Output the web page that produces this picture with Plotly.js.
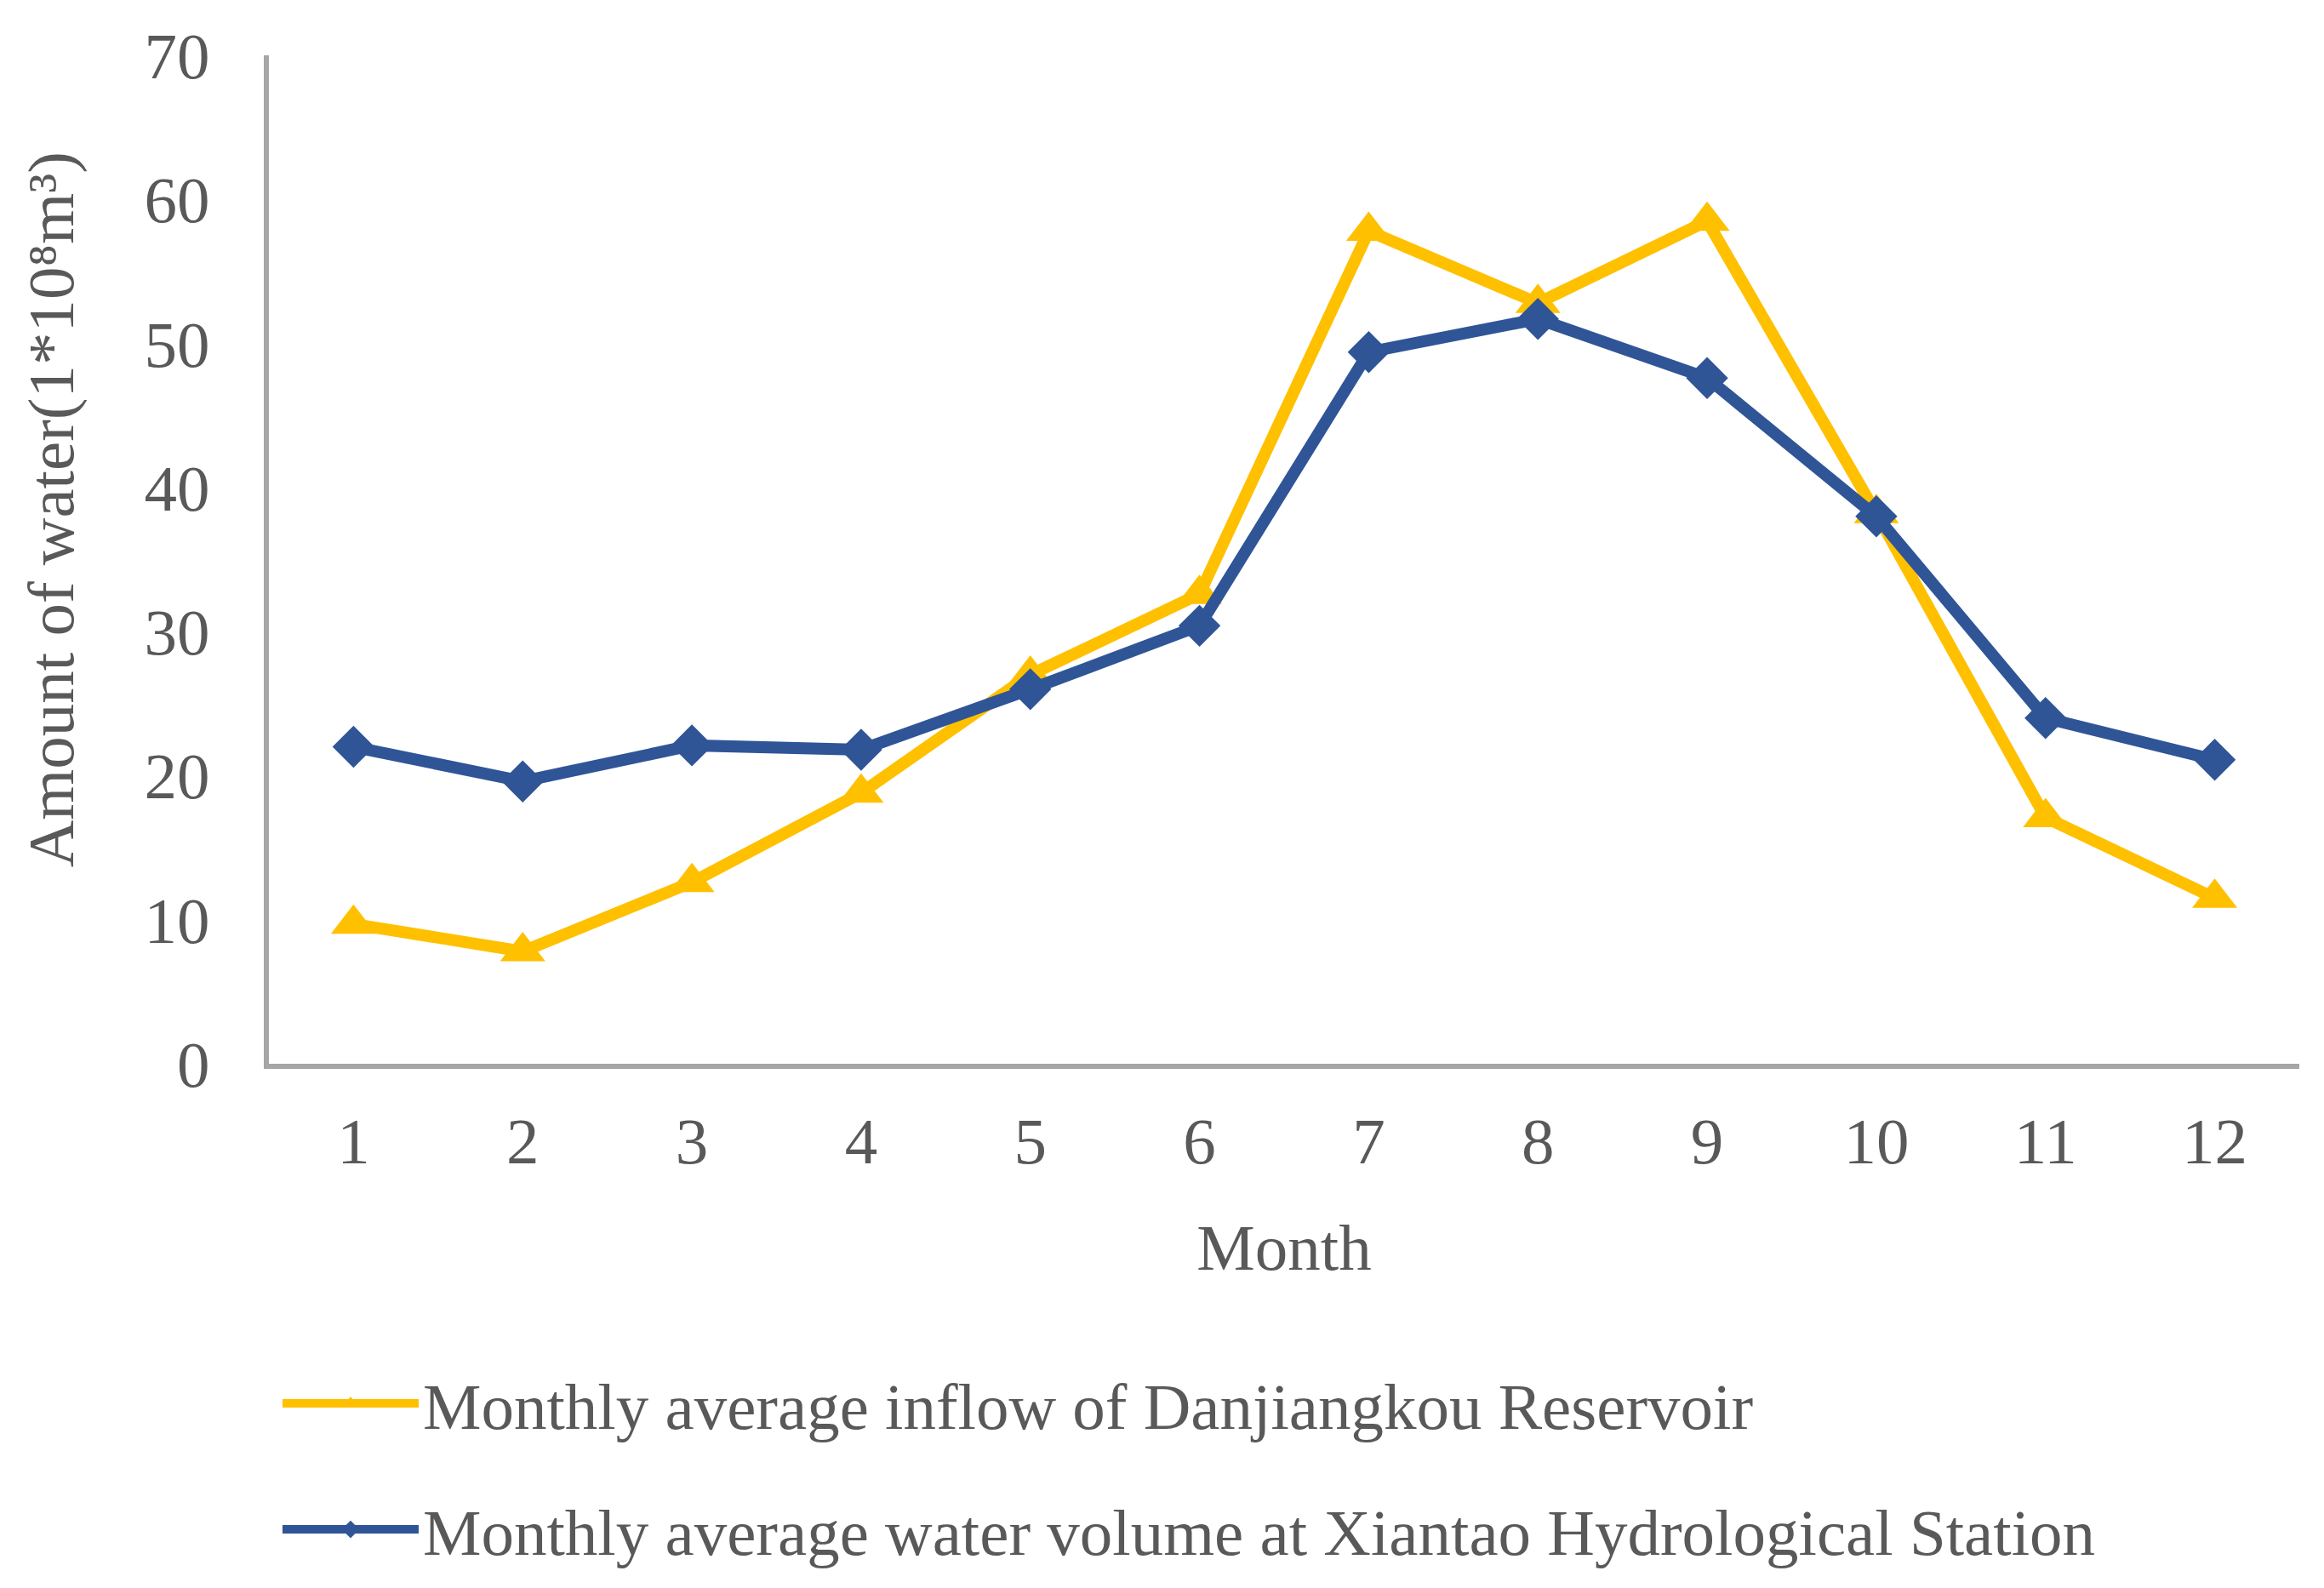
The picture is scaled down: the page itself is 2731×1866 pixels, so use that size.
<!DOCTYPE html>
<html>
<head>
<meta charset="utf-8">
<script src="https://cdn.plot.ly/plotly-3.0.1.min.js"></script>
<style>
  html, body { margin: 0; padding: 0; background: #ffffff; }
  #chart { width: 2731px; height: 1866px; }
</style>
</head>
<body>
<div id="chart"></div>
<script>
// ---- data ----
var months = [1, 2, 3, 4, 5, 6, 7, 8, 9, 10, 11, 12];
var monthLabels = ['1', '2', '3', '4', '5', '6', '7', '8', '9', '10', '11', '12'];
var inflowDanjiangkou = [9.7, 7.8, 12.6, 18.8, 27.0, 32.6, 57.8, 52.8, 58.5, 38.2, 17.1, 11.5];
var volumeXiantao = [22.0, 19.6, 22.1, 21.8, 26.0, 30.4, 49.4, 51.7, 47.6, 38.0, 24.0, 21.1];
var seriesNames = [
  'Monthly average inflow of Danjiangkou Reservoir',
  'Monthly average water volume at Xiantao Hydrological Station'
];
var yTickVals = [0, 10, 20, 30, 40, 50, 60, 70];
var xTitle = 'Month';
var yTitle = 'Amount of water(1*10\u2078m\u00B3)';

var FONT = '"Liberation Serif", "Times New Roman", serif';
var TXT = '#595959';
var AXIS = '#a6a6a6';

var traces = [
  {
    x: months, y: inflowDanjiangkou, name: seriesNames[0],
    type: 'scatter', mode: 'lines+markers', legendgroup: 'a',
    line: { color: '#FFC000', width: 14 },
    marker: { symbol: 'triangle-up', size: 46, color: '#FFC000' }
  },
  {
    x: months, y: volumeXiantao, name: seriesNames[1],
    type: 'scatter', mode: 'lines+markers', legendgroup: 'b',
    line: { color: '#2F5597', width: 14 },
    marker: { symbol: 'diamond', size: 38, color: '#2F5597' }
  }
];

var layout = {
  width: 2731, height: 1866,
  paper_bgcolor: '#ffffff', plot_bgcolor: '#ffffff',
  margin: { l: 316, r: 29, t: 65, b: 616, pad: 0 },
  font: { family: FONT, size: 77, color: TXT },
  showlegend: true,
  xaxis: {
    range: [0.5, 12.5], tickmode: 'array', tickvals: months, ticktext: monthLabels,
    showline: true, linecolor: AXIS, linewidth: 6, ticks: '', showgrid: false, zeroline: false,
    ticklabelstandoff: 19,
    tickfont: { family: FONT, size: 77, color: TXT },
    title: { text: xTitle, font: { family: FONT, size: 77, color: TXT }, standoff: 57 }
  },
  yaxis: {
    range: [0, 70], tickmode: 'array', tickvals: yTickVals,
    showline: true, linecolor: AXIS, linewidth: 6, ticks: '', showgrid: false, zeroline: false,
    ticklabelstandoff: 48,
    tickfont: { family: FONT, size: 77, color: TXT }
  },
  annotations: [
    {
      text: yTitle, textangle: -90, showarrow: false,
      xref: 'paper', yref: 'paper', x: -0.1073, y: 0.550,
      xanchor: 'center', yanchor: 'middle',
      font: { family: FONT, size: 77, color: TXT }
    }
  ],
  legend: {
    orientation: 'v', x: 0.0046, xanchor: 'left', y: -0.289, yanchor: 'top',
    font: { family: FONT, size: 77, color: TXT },
    itemwidth: 160, tracegroupgap: 45, bgcolor: 'rgba(0,0,0,0)', borderwidth: 0
  }
};

Plotly.newPlot('chart', traces, layout, { displayModeBar: false, staticPlot: true });
</script>
</body>
</html>
